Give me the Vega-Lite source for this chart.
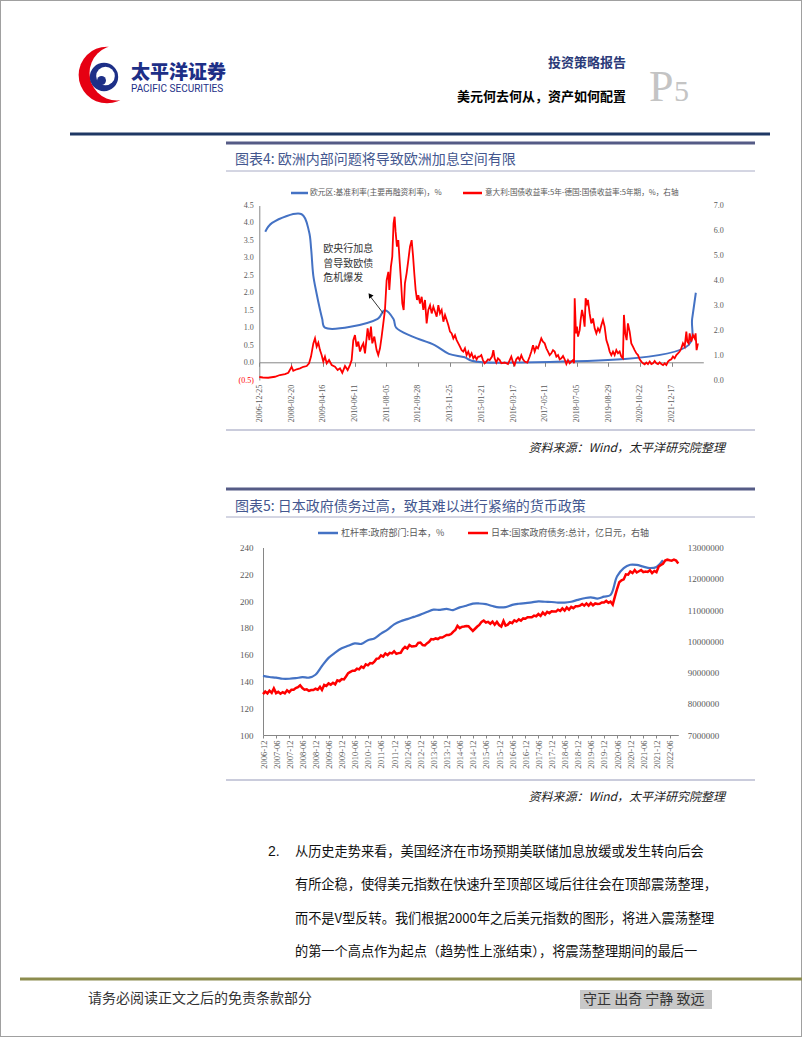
{
"$schema": "https://vega.github.io/schema/vega-lite/v6.json",
"width": 802, "height": 1037,
"autosize": {"type": "none"},
"padding": 0,
"background": "#ffffff",
"config": {"font": "Noto Sans CJK SC", "view": {"stroke": "#a0a0a0", "strokeWidth": 2}, "axis": {"labelOverlap": false}},
"data": {"values": [{}]},
"datasets": {
"ecb": [
{"date":"2007-03-14","rate":3.75},{"date":"2007-06-13","rate":4.0},{"date":"2008-07-09","rate":4.25},{"date":"2008-10-15","rate":3.75},{"date":"2008-11-12","rate":3.25},{"date":"2008-12-10","rate":2.5},{"date":"2009-01-21","rate":2.0},{"date":"2009-03-11","rate":1.5},{"date":"2009-04-08","rate":1.25},{"date":"2009-05-13","rate":1.0},{"date":"2011-04-13","rate":1.25},{"date":"2011-07-13","rate":1.5},{"date":"2011-11-09","rate":1.25},{"date":"2011-12-14","rate":1.0},{"date":"2012-07-11","rate":0.75},{"date":"2013-05-08","rate":0.5},{"date":"2013-11-13","rate":0.25},{"date":"2014-06-11","rate":0.15},{"date":"2014-09-10","rate":0.05},{"date":"2016-03-16","rate":0.0},{"date":"2022-07-27","rate":0.5},{"date":"2022-09-14","rate":1.25},{"date":"2022-11-02","rate":2.0}
],
"spread": [
{"date":"2006-12-25","v":0.12},{"date":"2007-02-10","v":0.10},{"date":"2007-04-22","v":0.09},{"date":"2007-07-20","v":0.13},{"date":"2007-09-25","v":0.20},{"date":"2007-12-01","v":0.24},{"date":"2008-01-14","v":0.29},{"date":"2008-02-27","v":0.53},{"date":"2008-03-20","v":0.37},{"date":"2008-05-04","v":0.43},{"date":"2008-06-17","v":0.47},{"date":"2008-07-31","v":0.53},{"date":"2008-09-14","v":0.56},{"date":"2008-10-15","v":0.67},{"date":"2008-11-10","v":0.94},{"date":"2008-12-11","v":1.47},{"date":"2009-01-02","v":1.67},{"date":"2009-01-24","v":1.34},{"date":"2009-02-15","v":1.50},{"date":"2009-03-09","v":1.20},{"date":"2009-03-31","v":1.00},{"date":"2009-04-22","v":0.74},{"date":"2009-05-14","v":0.94},{"date":"2009-06-06","v":0.67},{"date":"2009-07-07","v":0.80},{"date":"2009-08-11","v":0.60},{"date":"2009-09-24","v":0.53},{"date":"2009-10-29","v":0.40},{"date":"2009-11-29","v":0.47},{"date":"2009-12-30","v":0.29},{"date":"2010-02-04","v":0.56},{"date":"2010-03-11","v":0.40},{"date":"2010-04-10","v":0.60},{"date":"2010-05-03","v":0.80},{"date":"2010-05-25","v":1.60},{"date":"2010-06-16","v":1.80},{"date":"2010-07-08","v":1.34},{"date":"2010-07-30","v":1.54},{"date":"2010-08-22","v":1.14},{"date":"2010-09-13","v":1.34},{"date":"2010-10-05","v":1.47},{"date":"2010-10-27","v":1.07},{"date":"2010-12-01","v":2.07},{"date":"2010-12-24","v":1.60},{"date":"2011-01-14","v":2.14},{"date":"2011-02-01","v":1.47},{"date":"2011-02-28","v":1.74},{"date":"2011-03-30","v":1.20},{"date":"2011-04-21","v":1.00},{"date":"2011-05-14","v":1.27},{"date":"2011-06-05","v":1.74},{"date":"2011-06-27","v":2.27},{"date":"2011-07-19","v":2.81},{"date":"2011-08-10","v":4.00},{"date":"2011-09-02","v":4.34},{"date":"2011-09-15","v":3.61},{"date":"2011-10-06","v":4.55},{"date":"2011-10-24","v":4.95},{"date":"2011-11-10","v":6.28},{"date":"2011-11-24","v":6.55},{"date":"2011-12-07","v":5.95},{"date":"2011-12-25","v":5.35},{"date":"2012-01-12","v":5.61},{"date":"2012-01-29","v":4.81},{"date":"2012-02-16","v":4.00},{"date":"2012-03-05","v":3.07},{"date":"2012-03-23","v":2.81},{"date":"2012-04-09","v":3.88},{"date":"2012-05-01","v":4.28},{"date":"2012-05-24","v":4.81},{"date":"2012-06-15","v":5.35},{"date":"2012-07-07","v":5.61},{"date":"2012-07-25","v":5.00},{"date":"2012-08-11","v":4.28},{"date":"2012-08-29","v":3.61},{"date":"2012-09-16","v":3.21},{"date":"2012-10-04","v":3.40},{"date":"2012-10-26","v":3.07},{"date":"2012-11-17","v":3.34},{"date":"2012-12-09","v":2.81},{"date":"2012-12-31","v":3.21},{"date":"2013-01-22","v":2.27},{"date":"2013-02-13","v":2.81},{"date":"2013-03-08","v":3.00},{"date":"2013-03-30","v":2.67},{"date":"2013-04-21","v":2.94},{"date":"2013-05-13","v":2.74},{"date":"2013-06-04","v":2.54},{"date":"2013-06-26","v":3.00},{"date":"2013-07-18","v":2.67},{"date":"2013-08-09","v":2.81},{"date":"2013-09-01","v":2.34},{"date":"2013-09-23","v":2.61},{"date":"2013-10-15","v":2.41},{"date":"2013-11-06","v":2.20},{"date":"2013-11-28","v":1.94},{"date":"2013-12-20","v":1.87},{"date":"2014-01-11","v":1.67},{"date":"2014-02-02","v":1.80},{"date":"2014-02-24","v":1.60},{"date":"2014-03-18","v":1.47},{"date":"2014-04-09","v":1.34},{"date":"2014-05-01","v":1.20},{"date":"2014-05-23","v":1.14},{"date":"2014-06-14","v":1.27},{"date":"2014-07-06","v":1.00},{"date":"2014-07-28","v":1.14},{"date":"2014-08-19","v":0.94},{"date":"2014-09-10","v":1.07},{"date":"2014-10-03","v":0.87},{"date":"2014-10-25","v":0.96},{"date":"2014-11-16","v":0.83},{"date":"2014-12-08","v":0.94},
{"date":"2014-12-26","v":0.94},{"date":"2015-01-17","v":1.00},{"date":"2015-02-08","v":0.80},{"date":"2015-03-02","v":0.67},{"date":"2015-03-25","v":0.74},{"date":"2015-04-16","v":0.83},{"date":"2015-05-08","v":0.80},{"date":"2015-06-08","v":0.94},{"date":"2015-06-26","v":1.20},{"date":"2015-07-13","v":0.87},{"date":"2015-08-04","v":0.70},{"date":"2015-08-26","v":0.87},{"date":"2015-09-18","v":0.80},{"date":"2015-10-10","v":0.67},{"date":"2015-11-23","v":0.70},{"date":"2016-01-06","v":0.64},{"date":"2016-02-19","v":0.94},{"date":"2016-03-12","v":0.71},{"date":"2016-04-03","v":0.60},{"date":"2016-04-25","v":0.83},{"date":"2016-05-18","v":0.91},{"date":"2016-06-09","v":0.80},{"date":"2016-07-01","v":0.99},{"date":"2016-07-23","v":0.83},{"date":"2016-08-14","v":0.74},{"date":"2016-09-19","v":0.70},{"date":"2016-10-20","v":0.94},{"date":"2016-11-11","v":1.14},{"date":"2016-12-03","v":1.40},{"date":"2016-12-25","v":1.14},{"date":"2017-01-16","v":1.34},{"date":"2017-02-07","v":1.27},{"date":"2017-03-01","v":1.47},{"date":"2017-03-23","v":1.67},{"date":"2017-04-14","v":1.54},{"date":"2017-05-07","v":1.47},{"date":"2017-05-29","v":1.27},{"date":"2017-06-20","v":1.14},{"date":"2017-07-12","v":1.00},{"date":"2017-08-03","v":1.07},{"date":"2017-08-25","v":1.20},{"date":"2017-09-16","v":1.14},{"date":"2017-10-09","v":0.94},{"date":"2017-10-31","v":1.00},{"date":"2017-11-22","v":0.83},{"date":"2017-12-14","v":0.87},{"date":"2018-01-05","v":0.96},{"date":"2018-01-27","v":0.83},{"date":"2018-02-18","v":0.64},{"date":"2018-03-12","v":0.80},{"date":"2018-04-03","v":0.67},{"date":"2018-04-25","v":0.74},{"date":"2018-05-17","v":0.80},{"date":"2018-05-31","v":0.67},{"date":"2018-06-09","v":3.28},{"date":"2018-06-26","v":1.87},{"date":"2018-07-09","v":2.14},{"date":"2018-07-23","v":1.74},{"date":"2018-08-14","v":2.00},{"date":"2018-08-27","v":2.41},{"date":"2018-09-14","v":2.81},{"date":"2018-10-02","v":2.54},{"date":"2018-10-19","v":2.14},{"date":"2018-11-01","v":3.28},{"date":"2018-11-19","v":3.07},{"date":"2018-12-02","v":3.21},{"date":"2018-12-24","v":2.67},{"date":"2019-01-15","v":2.27},{"date":"2019-02-07","v":2.47},{"date":"2019-03-01","v":2.07},{"date":"2019-03-23","v":1.87},{"date":"2019-04-14","v":2.07},{"date":"2019-05-06","v":1.94},{"date":"2019-05-28","v":2.20},{"date":"2019-06-19","v":2.41},{"date":"2019-07-11","v":2.14},{"date":"2019-08-03","v":1.60},{"date":"2019-08-25","v":1.40},{"date":"2019-09-16","v":1.14},{"date":"2019-10-08","v":1.00},{"date":"2019-10-30","v":1.14},{"date":"2019-11-21","v":1.00},{"date":"2019-12-13","v":1.20},{"date":"2020-01-04","v":1.07},{"date":"2020-01-26","v":1.14},{"date":"2020-02-17","v":0.94},{"date":"2020-03-10","v":0.87},{"date":"2020-03-23","v":2.61},{"date":"2020-04-10","v":1.87},{"date":"2020-04-28","v":1.60},{"date":"2020-05-15","v":2.27},{"date":"2020-06-07","v":1.94},{"date":"2020-06-29","v":1.47},{"date":"2020-07-21","v":1.34},{"date":"2020-08-12","v":1.20},{"date":"2020-09-04","v":1.07},{"date":"2020-09-26","v":1.00},{"date":"2020-10-18","v":0.83},{"date":"2020-11-09","v":0.74},{"date":"2020-12-01","v":0.67},{"date":"2020-12-23","v":0.63},{"date":"2021-01-14","v":0.70},{"date":"2021-02-05","v":0.64},{"date":"2021-02-28","v":0.74},{"date":"2021-03-22","v":0.64},{"date":"2021-04-13","v":0.67},{"date":"2021-05-05","v":0.76},{"date":"2021-05-27","v":0.67},{"date":"2021-06-18","v":0.64},{"date":"2021-07-10","v":0.71},{"date":"2021-08-01","v":0.64},{"date":"2021-08-24","v":0.60},{"date":"2021-09-15","v":0.67},{"date":"2021-10-07","v":0.60},{"date":"2021-10-29","v":0.74},{"date":"2021-11-20","v":0.80},{"date":"2021-12-12","v":0.83},{"date":"2022-01-03","v":0.94},{"date":"2022-01-25","v":0.87},{"date":"2022-02-16","v":1.00},{"date":"2022-03-10","v":1.07},{"date":"2022-04-01","v":1.14},{"date":"2022-04-23","v":1.27},{"date":"2022-05-15","v":1.47},{"date":"2022-06-07","v":1.34},{"date":"2022-06-29","v":1.94},{"date":"2022-07-12","v":1.54},{"date":"2022-07-30","v":1.47},{"date":"2022-08-12","v":1.87},{"date":"2022-09-03","v":1.54},{"date":"2022-09-25","v":1.80},{"date":"2022-10-17","v":1.67},{"date":"2022-10-30","v":1.87},{"date":"2022-11-12","v":1.20},{"date":"2022-11-30","v":1.47}
],
"lev": [
{"date":"2006-12-01","lev":144.1},{"date":"2007-03-01","lev":143.3},{"date":"2007-06-01","lev":142.8},{"date":"2007-09-01","lev":142.0},{"date":"2007-12-01","lev":142.0},{"date":"2008-03-01","lev":142.4},{"date":"2008-06-01","lev":143.2},{"date":"2008-09-01","lev":142.8},{"date":"2008-12-01","lev":145.0},{"date":"2009-03-01","lev":151.5},{"date":"2009-06-01","lev":157.6},{"date":"2009-09-01","lev":161.5},{"date":"2009-12-01","lev":164.7},{"date":"2010-03-01","lev":166.6},{"date":"2010-06-01","lev":168.4},{"date":"2010-09-01","lev":168.0},{"date":"2010-12-01","lev":170.8},{"date":"2011-03-01","lev":172.1},{"date":"2011-06-01","lev":175.7},{"date":"2011-09-01","lev":178.7},{"date":"2011-12-01","lev":182.6},{"date":"2012-03-01","lev":185.0},{"date":"2012-06-01","lev":186.5},{"date":"2012-09-01","lev":188.2},{"date":"2012-12-01","lev":189.9},{"date":"2013-03-01","lev":191.8},{"date":"2013-06-01","lev":193.6},{"date":"2013-09-01","lev":193.4},{"date":"2013-12-01","lev":194.1},{"date":"2014-03-01","lev":193.3},{"date":"2014-06-01","lev":195.3},{"date":"2014-09-01","lev":196.5},{"date":"2014-12-01","lev":198.1},{"date":"2015-03-01","lev":198.2},{"date":"2015-06-01","lev":197.7},{"date":"2015-09-01","lev":196.3},{"date":"2015-12-01","lev":195.3},{"date":"2016-03-01","lev":195.5},{"date":"2016-06-01","lev":197.2},{"date":"2016-09-01","lev":198.0},{"date":"2016-12-01","lev":198.5},{"date":"2017-03-01","lev":199.0},{"date":"2017-06-01","lev":199.8},{"date":"2017-09-01","lev":199.5},{"date":"2017-12-01","lev":199.3},{"date":"2018-03-01","lev":198.9},{"date":"2018-06-01","lev":198.8},{"date":"2018-09-01","lev":199.5},{"date":"2018-12-01","lev":200.9},{"date":"2019-03-01","lev":202.1},{"date":"2019-06-01","lev":202.8},{"date":"2019-09-01","lev":201.9},{"date":"2019-12-01","lev":203.3},{"date":"2020-03-01","lev":204.5},{"date":"2020-06-01","lev":218.5},{"date":"2020-09-01","lev":224.6},{"date":"2020-12-01","lev":227.1},{"date":"2021-03-01","lev":227.0},{"date":"2021-06-01","lev":225.7},{"date":"2021-09-01","lev":224.7},{"date":"2021-12-01","lev":225.5},{"date":"2022-03-01","lev":230.5}
],
"debt": [
{"date":"2006-12-01","debt":8310000},{"date":"2007-01-01","debt":8390000},{"date":"2007-02-01","debt":8330000},{"date":"2007-03-01","debt":8420000},{"date":"2007-04-01","debt":8350000},{"date":"2007-05-01","debt":8490000},{"date":"2007-06-01","debt":8340000},{"date":"2007-07-01","debt":8380000},{"date":"2007-08-01","debt":8320000},{"date":"2007-09-01","debt":8370000},{"date":"2007-10-01","debt":8330000},{"date":"2007-11-01","debt":8430000},{"date":"2007-12-01","debt":8370000},{"date":"2008-01-01","debt":8450000},{"date":"2008-02-01","debt":8450000},{"date":"2008-03-01","debt":8500000},{"date":"2008-04-01","debt":8530000},{"date":"2008-05-01","debt":8590000},{"date":"2008-06-01","debt":8500000},{"date":"2008-07-01","debt":8450000},{"date":"2008-08-01","debt":8460000},{"date":"2008-09-01","debt":8410000},{"date":"2008-10-01","debt":8440000},{"date":"2008-11-01","debt":8440000},{"date":"2008-12-01","debt":8480000},{"date":"2009-01-01","debt":8450000},{"date":"2009-02-01","debt":8540000},{"date":"2009-03-01","debt":8440000},{"date":"2009-04-01","debt":8600000},{"date":"2009-05-01","debt":8570000},{"date":"2009-06-01","debt":8650000},{"date":"2009-07-01","debt":8610000},{"date":"2009-08-01","debt":8670000},{"date":"2009-09-01","debt":8620000},{"date":"2009-10-01","debt":8750000},{"date":"2009-11-01","debt":8720000},{"date":"2009-12-01","debt":8790000},{"date":"2010-01-01","debt":8780000},{"date":"2010-02-01","debt":8880000},{"date":"2010-03-01","debt":8980000},{"date":"2010-04-01","debt":9020000},{"date":"2010-05-01","debt":9060000},{"date":"2010-06-01","debt":9060000},{"date":"2010-07-01","debt":9120000},{"date":"2010-08-01","debt":9100000},{"date":"2010-09-01","debt":9190000},{"date":"2010-10-01","debt":9150000},{"date":"2010-11-01","debt":9260000},{"date":"2010-12-01","debt":9230000},{"date":"2011-01-01","debt":9300000},{"date":"2011-02-01","debt":9290000},{"date":"2011-03-01","debt":9350000},{"date":"2011-04-01","debt":9440000},{"date":"2011-05-01","debt":9450000},{"date":"2011-06-01","debt":9550000},{"date":"2011-07-01","debt":9510000},{"date":"2011-08-01","debt":9610000},{"date":"2011-09-01","debt":9560000},{"date":"2011-10-01","debt":9630000},{"date":"2011-11-01","debt":9610000},{"date":"2011-12-01","debt":9680000},{"date":"2012-01-01","debt":9600000},{"date":"2012-02-01","debt":9620000},{"date":"2012-03-01","debt":9630000},{"date":"2012-04-01","debt":9750000},{"date":"2012-05-01","debt":9820000},{"date":"2012-06-01","debt":9770000},{"date":"2012-07-01","debt":9880000},{"date":"2012-08-01","debt":9830000},{"date":"2012-09-01","debt":9840000},{"date":"2012-10-01","debt":9850000},{"date":"2012-11-01","debt":9950000},{"date":"2012-12-01","debt":9960000},{"date":"2013-01-01","debt":9880000},{"date":"2013-02-01","debt":9870000},{"date":"2013-03-01","debt":9930000},{"date":"2013-04-01","debt":9980000},{"date":"2013-05-01","debt":10070000},{"date":"2013-06-01","debt":10060000},{"date":"2013-07-01","debt":10090000},{"date":"2013-08-01","debt":10070000},{"date":"2013-09-01","debt":10120000},{"date":"2013-10-01","debt":10120000},{"date":"2013-11-01","debt":10160000},{"date":"2013-12-01","debt":10200000},{"date":"2014-01-01","debt":10200000},{"date":"2014-02-01","debt":10230000},{"date":"2014-03-01","debt":10300000},{"date":"2014-04-01","debt":10360000},{"date":"2014-05-01","debt":10490000},{"date":"2014-06-01","debt":10420000},{"date":"2014-07-01","debt":10460000},{"date":"2014-08-01","debt":10470000},{"date":"2014-09-01","debt":10490000},{"date":"2014-10-01","debt":10480000},{"date":"2014-11-01","debt":10400000},{"date":"2014-12-01","debt":10330000},{"date":"2015-01-01","debt":10400000},{"date":"2015-02-01","debt":10470000},{"date":"2015-03-01","debt":10520000},{"date":"2015-04-01","debt":10620000},{"date":"2015-05-01","debt":10660000},{"date":"2015-06-01","debt":10600000},{"date":"2015-07-01","debt":10620000},{"date":"2015-08-01","debt":10560000},{"date":"2015-09-01","debt":10630000},{"date":"2015-10-01","debt":10530000},{"date":"2015-11-01","debt":10620000},{"date":"2015-12-01","debt":10520000},{"date":"2016-01-01","debt":10470000},{"date":"2016-02-01","debt":10650000},{"date":"2016-03-01","debt":10500000},{"date":"2016-04-01","debt":10530000},{"date":"2016-05-01","debt":10610000},{"date":"2016-06-01","debt":10580000},{"date":"2016-07-01","debt":10670000},{"date":"2016-08-01","debt":10630000},{"date":"2016-09-01","debt":10700000},{"date":"2016-10-01","debt":10660000},{"date":"2016-11-01","debt":10730000},{"date":"2016-12-01","debt":10720000},{"date":"2017-01-01","debt":10770000},{"date":"2017-02-01","debt":10770000},{"date":"2017-03-01","debt":10770000},{"date":"2017-04-01","debt":10820000},{"date":"2017-05-01","debt":10800000},{"date":"2017-06-01","debt":10870000},{"date":"2017-07-01","debt":10810000},{"date":"2017-08-01","debt":10920000},{"date":"2017-09-01","debt":10850000},{"date":"2017-10-01","debt":10940000},{"date":"2017-11-01","debt":10900000},{"date":"2017-12-01","debt":10960000},{"date":"2018-01-01","debt":10950000},{"date":"2018-02-01","debt":10950000},{"date":"2018-03-01","debt":11010000},{"date":"2018-04-01","debt":10970000},{"date":"2018-05-01","debt":11050000},{"date":"2018-06-01","debt":10980000},{"date":"2018-07-01","debt":11080000},{"date":"2018-08-01","debt":11010000},{"date":"2018-09-01","debt":11100000},{"date":"2018-10-01","debt":11060000},{"date":"2018-11-01","debt":11120000},{"date":"2018-12-01","debt":11120000},{"date":"2019-01-01","debt":11140000},{"date":"2019-02-01","debt":11190000},{"date":"2019-03-01","debt":11140000},{"date":"2019-04-01","debt":11210000},{"date":"2019-05-01","debt":11140000},{"date":"2019-06-01","debt":11220000},{"date":"2019-07-01","debt":11150000},{"date":"2019-08-01","debt":11210000},{"date":"2019-09-01","debt":11190000},{"date":"2019-10-01","debt":11200000},{"date":"2019-11-01","debt":11240000},{"date":"2019-12-01","debt":11240000},{"date":"2020-01-01","debt":11290000},{"date":"2020-02-01","debt":11230000},{"date":"2020-03-01","debt":11270000},{"date":"2020-04-01","debt":11170000},{"date":"2020-05-01","debt":11430000},{"date":"2020-06-01","debt":11680000},{"date":"2020-07-01","debt":11890000},{"date":"2020-08-01","debt":11950000},{"date":"2020-09-01","debt":11980000},{"date":"2020-10-01","debt":12140000},{"date":"2020-11-01","debt":12130000},{"date":"2020-12-01","debt":12230000},{"date":"2021-01-01","debt":12180000},{"date":"2021-02-01","debt":12280000},{"date":"2021-03-01","debt":12200000},{"date":"2021-04-01","debt":12240000},{"date":"2021-05-01","debt":12280000},{"date":"2021-06-01","debt":12210000},{"date":"2021-07-01","debt":12230000},{"date":"2021-08-01","debt":12220000},{"date":"2021-09-01","debt":12270000},{"date":"2021-10-01","debt":12180000},{"date":"2021-11-01","debt":12250000},{"date":"2021-12-01","debt":12210000},{"date":"2022-01-01","debt":12390000},{"date":"2022-02-01","debt":12440000},{"date":"2022-03-01","debt":12480000},{"date":"2022-04-01","debt":12580000},{"date":"2022-05-01","debt":12610000},{"date":"2022-06-01","debt":12590000},{"date":"2022-07-01","debt":12580000},{"date":"2022-08-01","debt":12610000},{"date":"2022-09-01","debt":12580000},{"date":"2022-10-01","debt":12490000}
]
},
"resolve": {"scale": {"x": "independent", "y": "independent"}},
"layer": [
{
"layer": [
{"mark": {"type": "point", "shape": "circle", "filled": true, "opacity": 1, "size": 3217, "color": "#e60012", "strokeWidth": 0},
 "encoding": {"x": {"datum": 107, "type": "quantitative", "scale": {"domain": [0, 802], "range": [0, 802], "nice": false, "zero": false}, "axis": null}, "y": {"datum": 75, "type": "quantitative", "scale": {"domain": [0, 1037], "range": [0, 1037], "nice": false, "zero": false}, "axis": null}}},
{"mark": {"type": "point", "shape": "circle", "filled": true, "opacity": 1, "size": 3019, "color": "#ffffff", "strokeWidth": 0},
 "encoding": {"x": {"datum": 117, "type": "quantitative"}, "y": {"datum": 73, "type": "quantitative"}}},
{"mark": {"type": "point", "shape": "circle", "filled": true, "opacity": 1, "size": 804, "color": "#1d2f87", "strokeWidth": 0},
 "encoding": {"x": {"datum": 104, "type": "quantitative"}, "y": {"datum": 77, "type": "quantitative"}}},
{"mark": {"type": "point", "shape": "circle", "filled": true, "opacity": 1, "size": 346, "color": "#ffffff", "strokeWidth": 0},
 "encoding": {"x": {"datum": 105.5, "type": "quantitative"}, "y": {"datum": 76, "type": "quantitative"}}},
{"mark": {"type": "point", "shape": "circle", "filled": true, "opacity": 1, "size": 80, "color": "#1d2f87", "strokeWidth": 0},
 "encoding": {"x": {"datum": 101.5, "type": "quantitative"}, "y": {"datum": 80.5, "type": "quantitative"}}},
{"data": {"values": [{"t": "太平洋证券"}]},
 "mark": {"type": "text", "align": "left", "baseline": "middle", "fontSize": 19, "fontWeight": 900, "fill": "#1d2f87"},
 "encoding": {"x": {"datum": 131, "type": "quantitative"}, "y": {"datum": 73, "type": "quantitative"}, "text": {"field": "t"}}},
{"data": {"values": [{"t": "PACIFIC SECURITIES"}]},
 "mark": {"type": "text", "align": "left", "baseline": "middle", "fontSize": 10, "font": "Roboto", "fill": "#1d2f87"},
 "encoding": {"x": {"datum": 131, "type": "quantitative"}, "y": {"datum": 88.5, "type": "quantitative"}, "text": {"field": "t"}}},
{"data": {"values": [{"t": "投资策略报告"}]},
 "mark": {"type": "text", "align": "right", "baseline": "middle", "fontSize": 13, "fontWeight": "bold", "fill": "#2b3a78"},
 "encoding": {"x": {"datum": 626, "type": "quantitative"}, "y": {"datum": 63, "type": "quantitative"}, "text": {"field": "t"}}},
{"data": {"values": [{"t": "美元何去何从，资产如何配置"}]},
 "mark": {"type": "text", "align": "right", "baseline": "middle", "fontSize": 13, "fontWeight": "bold", "fill": "#000000"},
 "encoding": {"x": {"datum": 626, "type": "quantitative"}, "y": {"datum": 97, "type": "quantitative"}, "text": {"field": "t"}}},
{"data": {"values": [{"t": "P"}]},
 "mark": {"type": "text", "align": "left", "baseline": "alphabetic", "fontSize": 44, "font": "Liberation Serif", "fill": "#c4c4c4"},
 "encoding": {"x": {"datum": 649, "type": "quantitative"}, "y": {"datum": 101, "type": "quantitative"}, "text": {"field": "t"}}},
{"data": {"values": [{"t": "5"}]},
 "mark": {"type": "text", "align": "left", "baseline": "alphabetic", "fontSize": 30, "font": "Liberation Serif", "fill": "#c4c4c4"},
 "encoding": {"x": {"datum": 674, "type": "quantitative"}, "y": {"datum": 101, "type": "quantitative"}, "text": {"field": "t"}}},
{"mark": {"type": "rule", "stroke": "#1f3864", "strokeWidth": 3},
 "encoding": {"x": {"datum": 70, "type": "quantitative"}, "x2": {"datum": 770}, "y": {"datum": 134, "type": "quantitative"}}},

{"mark": {"type": "rule", "stroke": "#555b86", "strokeWidth": 3},
 "encoding": {"x": {"datum": 226, "type": "quantitative"}, "x2": {"datum": 755}, "y": {"datum": 143, "type": "quantitative"}}},
{"data": {"values": [{"t": "图表4: 欧洲内部问题将导致欧洲加息空间有限"}]},
 "mark": {"type": "text", "align": "left", "baseline": "middle", "fontSize": 14, "fill": "#44578f"},
 "encoding": {"x": {"datum": 235, "type": "quantitative"}, "y": {"datum": 160, "type": "quantitative"}, "text": {"field": "t"}}},
{"mark": {"type": "rule", "stroke": "#a9acc6", "strokeWidth": 1},
 "encoding": {"x": {"datum": 226, "type": "quantitative"}, "x2": {"datum": 755}, "y": {"datum": 171, "type": "quantitative"}}},
{"mark": {"type": "rule", "stroke": "#4472c4", "strokeWidth": 2.5},
 "encoding": {"x": {"datum": 291, "type": "quantitative"}, "x2": {"datum": 308}, "y": {"datum": 193, "type": "quantitative"}}},
{"data": {"values": [{"t": "欧元区:基准利率(主要再融资利率)，%"}]},
 "mark": {"type": "text", "align": "left", "baseline": "middle", "fontSize": 7.8, "fill": "#595959"},
 "encoding": {"x": {"datum": 310, "type": "quantitative"}, "y": {"datum": 193, "type": "quantitative"}, "text": {"field": "t"}}},
{"mark": {"type": "rule", "stroke": "#ff0000", "strokeWidth": 2.5},
 "encoding": {"x": {"datum": 463, "type": "quantitative"}, "x2": {"datum": 482}, "y": {"datum": 193, "type": "quantitative"}}},
{"data": {"values": [{"t": "意大利:国债收益率:5年-德国:国债收益率:5年期，%，右轴"}]},
 "mark": {"type": "text", "align": "left", "baseline": "middle", "fontSize": 7.6, "fill": "#595959"},
 "encoding": {"x": {"datum": 485, "type": "quantitative"}, "y": {"datum": 193, "type": "quantitative"}, "text": {"field": "t"}}},
{"mark": {"type": "rule", "stroke": "#b8bbd0", "strokeWidth": 1.5},
 "encoding": {"x": {"datum": 226, "type": "quantitative"}, "x2": {"datum": 755}, "y": {"datum": 430, "type": "quantitative"}}},
{"data": {"values": [{"t": "资料来源：Wind，太平洋研究院整理"}]},
 "mark": {"type": "text", "align": "right", "baseline": "middle", "fontSize": 12, "fontStyle": "italic", "fill": "#222222"},
 "encoding": {"x": {"datum": 725, "type": "quantitative"}, "y": {"datum": 448, "type": "quantitative"}, "text": {"field": "t"}}},

{"mark": {"type": "rule", "stroke": "#555b86", "strokeWidth": 3},
 "encoding": {"x": {"datum": 226, "type": "quantitative"}, "x2": {"datum": 755}, "y": {"datum": 489, "type": "quantitative"}}},
{"data": {"values": [{"t": "图表5: 日本政府债务过高，致其难以进行紧缩的货币政策"}]},
 "mark": {"type": "text", "align": "left", "baseline": "middle", "fontSize": 14, "fill": "#44578f"},
 "encoding": {"x": {"datum": 235, "type": "quantitative"}, "y": {"datum": 507, "type": "quantitative"}, "text": {"field": "t"}}},
{"mark": {"type": "rule", "stroke": "#a9acc6", "strokeWidth": 1},
 "encoding": {"x": {"datum": 226, "type": "quantitative"}, "x2": {"datum": 755}, "y": {"datum": 517, "type": "quantitative"}}},
{"mark": {"type": "rule", "stroke": "#4472c4", "strokeWidth": 2.5},
 "encoding": {"x": {"datum": 318, "type": "quantitative"}, "x2": {"datum": 338}, "y": {"datum": 533, "type": "quantitative"}}},
{"data": {"values": [{"t": "杠杆率:政府部门:日本，%"}]},
 "mark": {"type": "text", "align": "left", "baseline": "middle", "fontSize": 9, "fill": "#595959"},
 "encoding": {"x": {"datum": 341, "type": "quantitative"}, "y": {"datum": 533, "type": "quantitative"}, "text": {"field": "t"}}},
{"mark": {"type": "rule", "stroke": "#ff0000", "strokeWidth": 2.5},
 "encoding": {"x": {"datum": 468, "type": "quantitative"}, "x2": {"datum": 488}, "y": {"datum": 533, "type": "quantitative"}}},
{"data": {"values": [{"t": "日本:国家政府债务:总计，亿日元，右轴"}]},
 "mark": {"type": "text", "align": "left", "baseline": "middle", "fontSize": 9, "fill": "#595959"},
 "encoding": {"x": {"datum": 491, "type": "quantitative"}, "y": {"datum": 533, "type": "quantitative"}, "text": {"field": "t"}}},
{"mark": {"type": "rule", "stroke": "#b8bbd0", "strokeWidth": 1.5},
 "encoding": {"x": {"datum": 226, "type": "quantitative"}, "x2": {"datum": 755}, "y": {"datum": 780, "type": "quantitative"}}},
{"data": {"values": [{"t": "资料来源：Wind，太平洋研究院整理"}]},
 "mark": {"type": "text", "align": "right", "baseline": "middle", "fontSize": 12, "fontStyle": "italic", "fill": "#222222"},
 "encoding": {"x": {"datum": 725, "type": "quantitative"}, "y": {"datum": 797, "type": "quantitative"}, "text": {"field": "t"}}},

{"mark": {"type": "rule", "stroke": "#8c8c4e", "strokeWidth": 3},
 "encoding": {"x": {"datum": 20, "type": "quantitative"}, "x2": {"datum": 802}, "y": {"datum": 979, "type": "quantitative"}}},
{"data": {"values": [{"t": "请务必阅读正文之后的免责条款部分"}]},
 "mark": {"type": "text", "align": "left", "baseline": "middle", "fontSize": 14, "fill": "#333333"},
 "encoding": {"x": {"datum": 88, "type": "quantitative"}, "y": {"datum": 999, "type": "quantitative"}, "text": {"field": "t"}}},
{"mark": {"type": "rect", "fill": "#c8c8c8"},
 "encoding": {"x": {"datum": 580, "type": "quantitative"}, "x2": {"datum": 712}, "y": {"datum": 990, "type": "quantitative"}, "y2": {"datum": 1009}}},
{"data": {"values": [{"t": "守正 出奇 宁静 致远"}]},
 "mark": {"type": "text", "align": "left", "baseline": "middle", "fontSize": 14, "fill": "#333333"},
 "encoding": {"x": {"datum": 583, "type": "quantitative"}, "y": {"datum": 999.5, "type": "quantitative"}, "text": {"field": "t"}}}
]
},
{
"resolve": {"scale": {"y": "independent"}},
"layer": [
{
"layer": [
{"data": {"name": "ecb"},
 "mark": {"type": "line", "interpolate": "catmull-rom", "stroke": "#4472c4", "strokeWidth": 2},
 "encoding": {
  "x": {"field": "date", "type": "temporal",
   "scale": {"type": "utc", "nice": false, "domain": [{"year": 2006, "month": 12, "date": 25, "utc": true}, {"year": 2023, "month": 2, "date": 9, "utc": true}], "range": [259.3, 703.3]},
   "axis": {"title": null, "orient": "bottom", "offset": -674.7, "grid": false, "format": "%Y-%m-%d", "labelAngle": 270, "labelFont": "Liberation Serif", "labelFontSize": 8, "labelColor": "#595959", "tickSize": 4, "tickCount": 50, "tickColor": "#868686", "domainColor": "#868686", "labelPadding": 18, "labelFlush": false, "labelOverlap": false, "labelBound": false,
    "values": [{"year":2006,"month":12,"date":25,"utc":true},{"year":2008,"month":2,"date":20,"utc":true},{"year":2009,"month":4,"date":16,"utc":true},{"year":2010,"month":6,"date":11,"utc":true},{"year":2011,"month":8,"date":5,"utc":true},{"year":2012,"month":9,"date":28,"utc":true},{"year":2013,"month":11,"date":25,"utc":true},{"year":2015,"month":1,"date":21,"utc":true},{"year":2016,"month":3,"date":17,"utc":true},{"year":2017,"month":5,"date":11,"utc":true},{"year":2018,"month":7,"date":5,"utc":true},{"year":2019,"month":8,"date":29,"utc":true},{"year":2020,"month":10,"date":22,"utc":true},{"year":2021,"month":12,"date":17,"utc":true}]}},
  "y": {"field": "rate", "type": "quantitative",
   "scale": {"domain": [-0.5, 4.5], "range": [380, 205.5], "nice": false, "zero": false},
   "axis": {"title": null, "orient": "left", "offset": -259.3, "grid": false, "tickCount": 50, "values": [-0.5, 0, 0.5, 1, 1.5, 2, 2.5, 3, 3.5, 4, 4.5], "labelExpr": "datum.value < 0 ? '(' + format(-datum.value, '.1f') + ')' : format(datum.value, '.1f')", "labelColor": {"condition": {"test": "datum.value < 0", "value": "#ff0000"}, "value": "#595959"}, "labelFont": "Liberation Serif", "labelFontSize": 8, "ticks": false, "tickSize": 0, "labelPadding": 6, "domainColor": "#868686"}}
 }},
{"data": {"values": [{"date": "2009-04-22", "rate": 3.24, "label": "欧央行加息\n曾导致欧债\n危机爆发"}]},
 "mark": {"type": "text", "align": "left", "baseline": "middle", "lineBreak": "\n", "lineHeight": 14.5, "fontSize": 10, "fill": "#333333"},
 "encoding": {"x": {"field": "date", "type": "temporal"}, "y": {"field": "rate", "type": "quantitative"}, "text": {"field": "label"}}},
{"data": {"values": [{"date": "2011-06-26", "rate": 1.41, "date2": "2011-01-03", "rate2": 1.9}]},
 "mark": {"type": "rule", "stroke": "#333333", "strokeWidth": 1},
 "encoding": {"x": {"field": "date", "type": "temporal"}, "x2": {"field": "date2"}, "y": {"field": "rate", "type": "quantitative"}, "y2": {"field": "rate2"}}},
{"data": {"values": [{"date": "2011-01-01", "rate": 1.93}]},
 "mark": {"type": "point", "shape": "triangle-up", "angle": 324, "filled": true, "opacity": 1, "size": 30, "color": "#000000"},
 "encoding": {"x": {"field": "date", "type": "temporal"}, "y": {"field": "rate", "type": "quantitative"}}}
]
},
{"data": {"name": "spread"},
 "mark": {"type": "line", "stroke": "#ff0000", "strokeWidth": 1.8},
 "encoding": {
  "x": {"field": "date", "type": "temporal"},
  "y": {"field": "v", "type": "quantitative",
   "scale": {"domain": [0, 7], "range": [380, 205.5], "nice": false},
   "axis": {"title": null, "orient": "right", "offset": -98.7, "grid": false, "tickCount": 50, "values": [0, 1, 2, 3, 4, 5, 6, 7], "format": ".1f", "labelFont": "Liberation Serif", "labelFontSize": 8, "labelColor": "#595959", "domain": false, "ticks": false, "tickSize": 0, "labelPadding": 10}}
 }}
]
},
{
"resolve": {"scale": {"y": "independent"}},
"layer": [
{"data": {"name": "lev"},
 "mark": {"type": "line", "interpolate": "catmull-rom", "stroke": "#4472c4", "strokeWidth": 2.2},
 "encoding": {
  "x": {"field": "date", "type": "temporal",
   "scale": {"type": "utc", "nice": false, "domain": [{"year": 2006, "month": 12, "date": 1, "utc": true}, {"year": 2022, "month": 10, "date": 1, "utc": true}], "range": [263, 678.3]},
   "axis": {"title": null, "orient": "bottom", "offset": -302, "grid": false, "format": "%Y-%m", "labelAngle": 270, "labelFont": "Liberation Serif", "labelFontSize": 8.5, "labelColor": "#595959", "tickSize": 3, "tickCount": 50, "tickColor": "#868686", "domainColor": "#868686", "labelPadding": 2, "labelFlush": false, "labelOverlap": false, "labelBound": false,
    "values": [{"year":2006,"month":12,"date":1,"utc":true},{"year":2007,"month":6,"date":1,"utc":true},{"year":2007,"month":12,"date":1,"utc":true},{"year":2008,"month":6,"date":1,"utc":true},{"year":2008,"month":12,"date":1,"utc":true},{"year":2009,"month":6,"date":1,"utc":true},{"year":2009,"month":12,"date":1,"utc":true},{"year":2010,"month":6,"date":1,"utc":true},{"year":2010,"month":12,"date":1,"utc":true},{"year":2011,"month":6,"date":1,"utc":true},{"year":2011,"month":12,"date":1,"utc":true},{"year":2012,"month":6,"date":1,"utc":true},{"year":2012,"month":12,"date":1,"utc":true},{"year":2013,"month":6,"date":1,"utc":true},{"year":2013,"month":12,"date":1,"utc":true},{"year":2014,"month":6,"date":1,"utc":true},{"year":2014,"month":12,"date":1,"utc":true},{"year":2015,"month":6,"date":1,"utc":true},{"year":2015,"month":12,"date":1,"utc":true},{"year":2016,"month":6,"date":1,"utc":true},{"year":2016,"month":12,"date":1,"utc":true},{"year":2017,"month":6,"date":1,"utc":true},{"year":2017,"month":12,"date":1,"utc":true},{"year":2018,"month":6,"date":1,"utc":true},{"year":2018,"month":12,"date":1,"utc":true},{"year":2019,"month":6,"date":1,"utc":true},{"year":2019,"month":12,"date":1,"utc":true},{"year":2020,"month":6,"date":1,"utc":true},{"year":2020,"month":12,"date":1,"utc":true},{"year":2021,"month":6,"date":1,"utc":true},{"year":2021,"month":12,"date":1,"utc":true},{"year":2022,"month":6,"date":1,"utc":true}]}},
  "y": {"field": "lev", "type": "quantitative",
   "scale": {"domain": [100, 240], "range": [735, 547.5], "nice": false, "zero": false},
   "axis": {"title": null, "orient": "left", "offset": -263, "grid": false, "tickCount": 50, "values": [100, 120, 140, 160, 180, 200, 220, 240], "labelFont": "Liberation Serif", "labelFontSize": 9, "labelColor": "#595959", "ticks": false, "tickSize": 0, "labelPadding": 10, "domainColor": "#868686"}}
 }},
{"data": {"name": "debt"},
 "mark": {"type": "line", "stroke": "#ff0000", "strokeWidth": 2.5},
 "encoding": {
  "x": {"field": "date", "type": "temporal"},
  "y": {"field": "debt", "type": "quantitative",
   "scale": {"domain": [7000000, 13000000], "range": [735, 547.5], "nice": false, "zero": false},
   "axis": {"title": null, "orient": "right", "offset": -123.7, "grid": false, "tickCount": 50, "values": [7000000, 8000000, 9000000, 10000000, 11000000, 12000000, 13000000], "format": "d", "labelFont": "Liberation Serif", "labelFontSize": 9, "labelColor": "#595959", "domain": false, "ticks": false, "tickSize": 0, "labelPadding": 9}}
 }}
]
},
{
"layer": [
{"data": {"values": [
 {"line": 1, "text": "从历史走势来看，美国经济在市场预期美联储加息放缓或发生转向后会"},
 {"line": 2, "text": "有所企稳，使得美元指数在快速升至顶部区域后往往会在顶部震荡整理，"},
 {"line": 3, "text": "而不是V型反转。我们根据2000年之后美元指数的图形，将进入震荡整理"},
 {"line": 4, "text": "的第一个高点作为起点（趋势性上涨结束），将震荡整理期间的最后一"}]},
 "mark": {"type": "text", "align": "left", "baseline": "middle", "fontSize": 13.2, "fill": "#111111"},
 "encoding": {
  "x": {"datum": 295, "type": "quantitative", "scale": {"domain": [0, 802], "range": [0, 802], "nice": false, "zero": false}, "axis": null},
  "y": {"field": "line", "type": "quantitative", "scale": {"domain": [1, 4], "range": [852, 952], "nice": false, "zero": false}, "axis": null},
  "text": {"field": "text"}}},
{"data": {"values": [{"line": 1, "text": "2."}]},
 "mark": {"type": "text", "align": "left", "baseline": "middle", "fontSize": 14, "font": "Liberation Sans", "fill": "#111111"},
 "encoding": {
  "x": {"datum": 268, "type": "quantitative"},
  "y": {"field": "line", "type": "quantitative"},
  "text": {"field": "text"}}}
]
}
]
}
